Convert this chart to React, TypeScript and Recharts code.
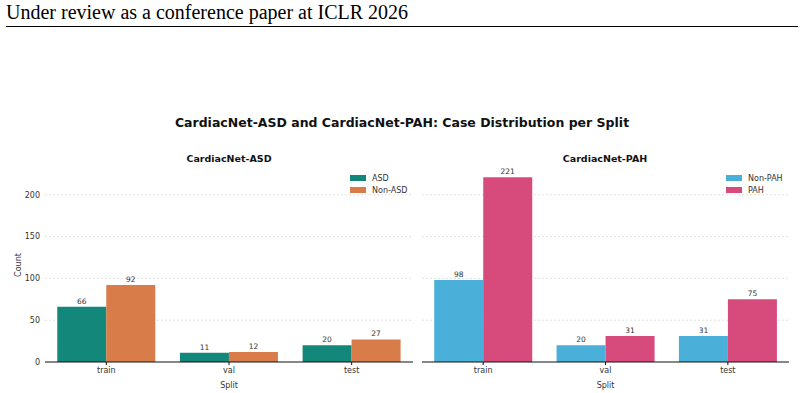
import { BarChart, Bar, XAxis, YAxis, CartesianGrid, Legend, LabelList } from 'recharts';

const splits = ['train', 'val', 'test'];
const asdValues = [66, 11, 20];
const nonAsdValues = [92, 12, 27];
const nonPahValues = [98, 20, 31];
const pahValues = [221, 31, 75];
const yTicks = [0, 50, 100, 150, 200];
const yMax = 232;

const COLORS = {
  asd: '#13877a',
  nonAsd: '#d87d4a',
  nonPah: '#4aafd9',
  pah: '#d64a7c',
};

const asdData = splits.map((split, i) => ({ split, ASD: asdValues[i], 'Non-ASD': nonAsdValues[i] }));
const pahData = splits.map((split, i) => ({ split, 'Non-PAH': nonPahValues[i], PAH: pahValues[i] }));

const FONT = '"DejaVu Sans", sans-serif';
const TEXT = '#333';

function SwatchLegend({ payload }: any) {
  return (
    <div style={{ fontFamily: FONT, fontSize: 8, color: TEXT }}>
      {(payload || []).map((item: any) => (
        <div key={item.value} style={{ display: 'flex', alignItems: 'center', height: 12 }}>
          <span style={{ width: 16, height: 6, background: item.color, marginRight: 6, display: 'inline-block' }} />
          <span>{item.value}</span>
        </div>
      ))}
    </div>
  );
}

// grid only at the tick values, no line at the plot top
const gridLines = ({ offset }: any) =>
  yTicks.filter((t) => t > 0).map((t) => offset.top + offset.height * (1 - t / yMax));

function SplitChart({ data, keys, colors, showY, legendLeft }: any) {
  return (
    <BarChart
      width={showY ? 420 : 400}
      height={253}
      data={data}
      margin={showY ? { top: 28, right: 7, left: 5, bottom: 0 } : { top: 28, right: 11, left: 22, bottom: 0 }}
      barCategoryGap="10%"
      barGap={0}
    >
      <CartesianGrid
        vertical={false}
        stroke="#d4d4d4"
        strokeDasharray="2 2"
        strokeWidth={0.7}
        horizontalCoordinatesGenerator={gridLines}
      />
      <XAxis
        dataKey="split"
        height={31}
        tickSize={3}
        tickMargin={2}
        tick={{ fill: TEXT, fontSize: 8, fontFamily: FONT }}
        axisLine={{ stroke: '#111', strokeWidth: 1.2 }}
        tickLine={{ stroke: '#111' }}
        label={{ value: 'Split', position: 'insideBottom', offset: 5, fontSize: 8, fill: TEXT, fontFamily: FONT }}
      />
      <YAxis
        hide={!showY}
        width={40}
        domain={[0, yMax]}
        ticks={yTicks}
        tickSize={0}
        tickMargin={5}
        axisLine={false}
        tickLine={false}
        tick={{ fill: TEXT, fontSize: 8, fontFamily: FONT }}
        label={{ value: 'Count', angle: -90, position: 'center', dx: -7, fontSize: 8, fill: TEXT, fontFamily: FONT }}
      />
      <Legend
        layout="vertical"
        align="center"
        verticalAlign="middle"
        content={<SwatchLegend />}
        wrapperStyle={{ top: 32, left: legendLeft, right: 'auto', bottom: 'auto', width: 'auto' }}
      />
      {keys.map((k: string, i: number) => (
        <Bar key={k} dataKey={k} fill={colors[i]} isAnimationActive={false}>
          <LabelList dataKey={k} position="top" offset={3} fontSize={7.5} fill={TEXT} fontFamily={FONT} />
        </Bar>
      ))}
    </BarChart>
  );
}

export default function App() {
  return (
    <div style={{ position: 'absolute', left: 0, top: 0, width: 804, height: 393, background: '#fff', fontFamily: FONT }}>
      <div
        style={{
          position: 'absolute',
          left: 6,
          top: 1,
          fontFamily: '"Liberation Serif", serif',
          fontSize: 20,
          color: '#000',
          whiteSpace: 'nowrap',
        }}
      >
        Under review as a conference paper at ICLR 2026
      </div>
      <div style={{ position: 'absolute', left: 6, top: 26, width: 792, height: 1, background: '#000' }} />
      <div
        style={{
          position: 'absolute',
          left: 0,
          width: 804,
          top: 115,
          textAlign: 'center',
          fontWeight: 'bold',
          fontSize: 12.5,
          color: '#111',
        }}
      >
        CardiacNet-ASD and CardiacNet-PAH: Case Distribution per Split
      </div>
      <div style={{ position: 'absolute', left: 129, width: 200, top: 153, textAlign: 'center', fontWeight: 'bold', fontSize: 9.5, color: '#111' }}>
        CardiacNet-ASD
      </div>
      <div style={{ position: 'absolute', left: 505, width: 200, top: 153, textAlign: 'center', fontWeight: 'bold', fontSize: 9.5, color: '#111' }}>
        CardiacNet-PAH
      </div>
      <div style={{ position: 'absolute', left: 0, top: 140 }}>
        <SplitChart data={asdData} keys={['ASD', 'Non-ASD']} colors={[COLORS.asd, COLORS.nonAsd]} showY legendLeft={350} />
      </div>
      <div style={{ position: 'absolute', left: 400, top: 140 }}>
        <SplitChart data={pahData} keys={['Non-PAH', 'PAH']} colors={[COLORS.nonPah, COLORS.pah]} showY={false} legendLeft={326} />
      </div>
    </div>
  );
}
